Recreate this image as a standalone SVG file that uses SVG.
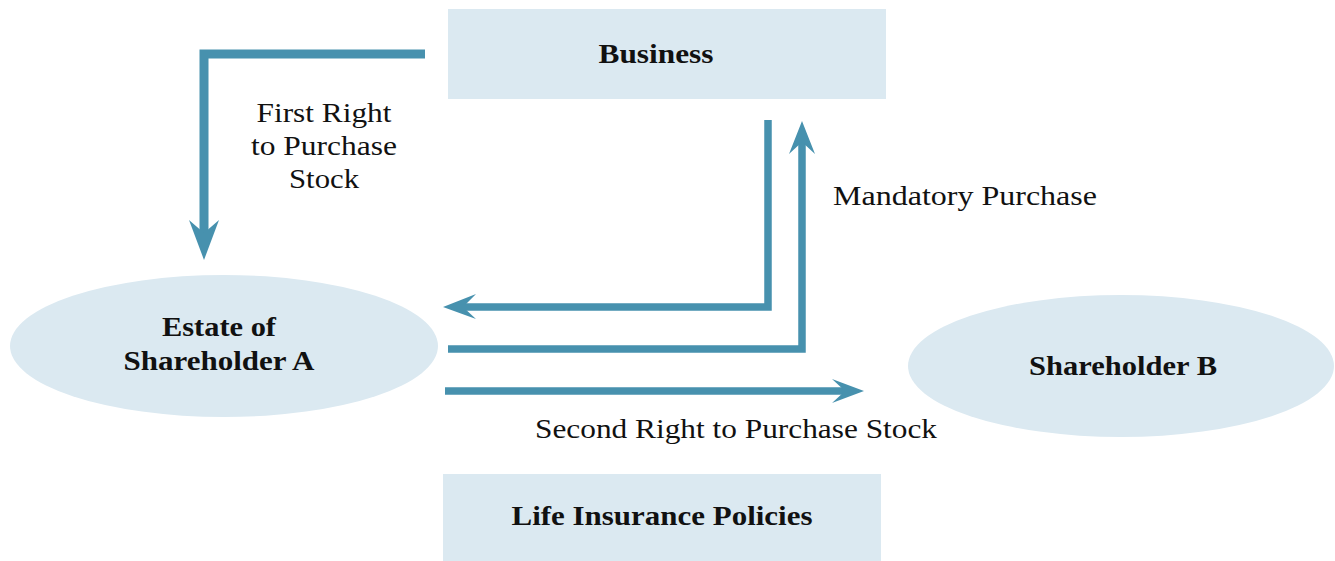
<svg xmlns="http://www.w3.org/2000/svg" width="1335" height="561" viewBox="0 0 1335 561">
  <style>
    .box { fill: #dbe9f1; }
    .lbl { font-family: "Liberation Serif", "Times New Roman", serif; font-size: 28px; fill: #111; }
    .bold { font-weight: bold; text-anchor: middle; }
    .mid { text-anchor: middle; }
    .line { fill: none; stroke: #4791ae; stroke-width: 7.5; stroke-linejoin: miter; stroke-linecap: butt; }
    .thick { stroke-width: 9; }
    .head { fill: #4791ae; }
  </style>
  <rect width="1335" height="561" fill="#ffffff"/>

  <g id="business">
    <rect class="box" x="448" y="9" width="438" height="90"/>
    <text class="lbl bold" x="656" y="63" textLength="115" lengthAdjust="spacingAndGlyphs">Business</text>
  </g>

  <g id="estate-a">
    <ellipse class="box" cx="224" cy="346" rx="214" ry="71"/>
    <text class="lbl bold" x="219" y="336" textLength="114" lengthAdjust="spacingAndGlyphs">Estate of</text>
    <text class="lbl bold" x="219" y="370" textLength="191" lengthAdjust="spacingAndGlyphs">Shareholder A</text>
  </g>

  <g id="shareholder-b">
    <ellipse class="box" cx="1121" cy="366" rx="213" ry="71"/>
    <text class="lbl bold" x="1123" y="375" textLength="188" lengthAdjust="spacingAndGlyphs">Shareholder B</text>
  </g>

  <g id="life-insurance">
    <rect class="box" x="443" y="474" width="438" height="87"/>
    <text class="lbl bold" x="662" y="525" textLength="301" lengthAdjust="spacingAndGlyphs">Life Insurance Policies</text>
  </g>

  <g id="connectors">
    <!-- Business to Estate of Shareholder A: first right to purchase -->
    <polyline class="line thick" points="425,54 204,54 204,236"/>
    <polygon class="head" points="204,260 189,220 204,233 219,220"/>

    <!-- Business down and across to Estate of Shareholder A -->
    <polyline class="line" points="768,120 768,307 463,307"/>
    <polygon class="head" points="443,307 476,294 463,307 476,319"/>

    <!-- Estate of Shareholder A across and up to Business: mandatory purchase -->
    <polyline class="line" points="448,349 802,349 802,142"/>
    <polygon class="head" points="802,121 789,154 802,142 815,154"/>

    <!-- Estate of Shareholder A to Shareholder B: second right -->
    <polyline class="line" points="445,391 845,391"/>
    <polygon class="head" points="864,391 832,379 845,391 832,403"/>
  </g>

  <g id="labels">
    <text class="lbl mid" x="324" y="122" textLength="135" lengthAdjust="spacingAndGlyphs">First Right</text>
    <text class="lbl mid" x="324" y="155" textLength="146" lengthAdjust="spacingAndGlyphs">to Purchase</text>
    <text class="lbl mid" x="324" y="188" textLength="70" lengthAdjust="spacingAndGlyphs">Stock</text>
    <text class="lbl" x="833" y="205" textLength="264" lengthAdjust="spacingAndGlyphs">Mandatory Purchase</text>
    <text class="lbl" x="535" y="438" textLength="402" lengthAdjust="spacingAndGlyphs">Second Right to Purchase Stock</text>
  </g>
</svg>
